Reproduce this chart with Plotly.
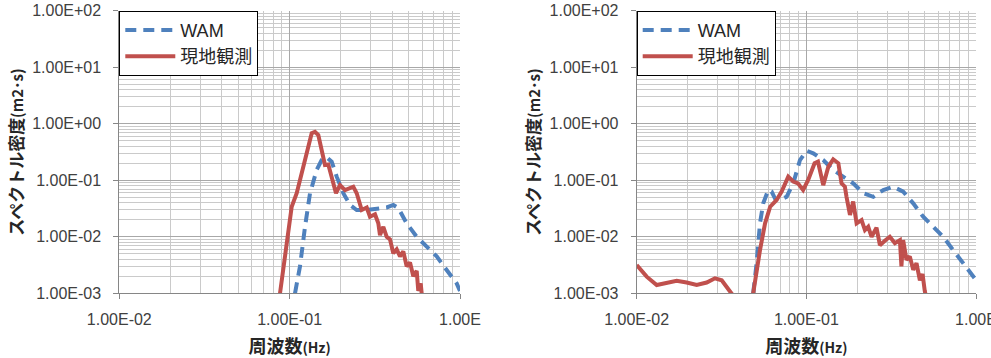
import plotly.graph_objects as go

# ---------------- data ----------------
# Left chart
wam1_f = [0.1075, 0.115, 0.1231, 0.1317, 0.1441, 0.1542, 0.1650, 0.1765, 0.1889, 0.2065,
          0.2261, 0.2475, 0.2834, 0.3243, 0.3713, 0.4059, 0.435, 0.4864, 0.557, 0.6377,
          0.730, 0.835, 0.956, 1.0]
wam1_s = [0.001, 0.003, 0.0151, 0.059, 0.152, 0.228, 0.255, 0.213, 0.116, 0.059,
          0.0365, 0.0298, 0.0298, 0.0318, 0.033, 0.0365, 0.032, 0.0173, 0.0100, 0.0067,
          0.0045, 0.00258, 0.0015, 0.0011]

obs1_f = [0.0878, 0.0961, 0.1028, 0.110, 0.1202, 0.1287, 0.1347, 0.1408, 0.1473, 0.1542,
          0.1612, 0.1686, 0.1765, 0.1871, 0.1975, 0.2113, 0.2364, 0.2475, 0.2649, 0.2834,
          0.2962, 0.3170, 0.3315, 0.3392, 0.3547, 0.3713, 0.3882, 0.4059, 0.425, 0.4444,
          0.4647, 0.4864, 0.5087, 0.532, 0.557, 0.569, 0.588, 0.60]
obs1_s = [0.001, 0.0077, 0.034, 0.059, 0.174, 0.343, 0.68, 0.72, 0.63, 0.34,
          0.186, 0.19, 0.116, 0.059, 0.082, 0.067, 0.077, 0.059, 0.0298, 0.033,
          0.0226, 0.025, 0.0173, 0.0107, 0.015, 0.0100, 0.009, 0.0051, 0.006, 0.0045,
          0.0055, 0.003, 0.0035, 0.002, 0.0025, 0.0011, 0.0015, 0.0008]

# Right chart
wam2_f = [0.0486, 0.0509, 0.0533, 0.0557, 0.0596, 0.0624, 0.0653, 0.0699, 0.0765, 0.0837,
          0.0917, 0.1004, 0.1098, 0.1258, 0.144, 0.165, 0.1889, 0.2164, 0.248, 0.284,
          0.3252, 0.3724, 0.4266, 0.4886, 0.5596, 0.6408, 0.734, 0.8408, 1.0]
wam2_s = [0.001, 0.0034, 0.0173, 0.039, 0.067, 0.063, 0.048, 0.0448, 0.051, 0.088,
          0.228, 0.333, 0.30, 0.228, 0.152, 0.116, 0.088, 0.059, 0.051, 0.067,
          0.0766, 0.063, 0.039, 0.0226, 0.0151, 0.0100, 0.0058, 0.0034, 0.00172]

obs2_f = [0.0100, 0.01145, 0.01312, 0.01503, 0.0172, 0.0197, 0.02257, 0.02585, 0.02893, 0.0317,
          0.0339, 0.0366, 0.042, 0.0486, 0.0533, 0.0571, 0.0612, 0.0668, 0.0715, 0.0782,
          0.0837, 0.0893, 0.0957, 0.1025, 0.1118, 0.1171, 0.1258, 0.1348, 0.144, 0.1544,
          0.1612, 0.1687, 0.1725, 0.1808, 0.1888, 0.1978, 0.2116, 0.2215, 0.2316, 0.2424,
          0.2591, 0.2714, 0.2903, 0.3106, 0.3325, 0.356, 0.3634, 0.372, 0.3893, 0.4072,
          0.4266, 0.446, 0.4668, 0.4841, 0.4989, 0.5112]
obs2_s = [0.00317, 0.00197, 0.0014, 0.0015, 0.00167, 0.00155, 0.0014, 0.00155, 0.00184, 0.0017,
          0.00128, 0.00095, 0.0003, 0.001, 0.0058, 0.0173, 0.034, 0.0448, 0.063, 0.116,
          0.095, 0.088, 0.067, 0.101, 0.20, 0.213, 0.082, 0.174, 0.235, 0.20,
          0.088, 0.077, 0.051, 0.0243, 0.042, 0.0173, 0.0197, 0.0131, 0.015, 0.0100,
          0.0145, 0.0071, 0.0085, 0.0100, 0.0077, 0.0087, 0.0030, 0.0087, 0.0039, 0.0045,
          0.0026, 0.0034, 0.0017, 0.0022, 0.0011, 0.0008]

x_tickvals = [0.01, 0.1, 1.0]
x_ticktext = ["1.00E-02", "1.00E-01", "1.00E"]
y_tickvals = [0.001, 0.01, 0.1, 1, 10, 100]
y_ticktext = ["1.00E-03", "1.00E-02", "1.00E-01", "1.00E+00", "1.00E+01", "1.00E+02"]

series_names = ["WAM", "現地観測"]

# ---------------- styling ----------------
BLUE = "#4F81BD"
RED = "#C0504D"
W, H = 991, 358
TICKFONT = dict(family="Liberation Sans, Arial", size=16, color="#404040")
CJK = "Noto Sans CJK JP"

fig = go.Figure()

def add_pair(wf, ws, of, os_, xa, ya, leg):
    fig.add_trace(go.Scatter(x=wf, y=ws, mode="lines", name=series_names[0],
                             line=dict(color=BLUE, width=4, dash="11px,7px"),
                             xaxis=xa, yaxis=ya, legend=leg))
    fig.add_trace(go.Scatter(x=of, y=os_, mode="lines", name=series_names[1],
                             line=dict(color=RED, width=4),
                             xaxis=xa, yaxis=ya, legend=leg))

add_pair(wam1_f, wam1_s, obs1_f, obs1_s, "x", "y", "legend")
add_pair(wam2_f, wam2_s, obs2_f, obs2_s, "x2", "y2", "legend2")

ytop = 1 - 10.7 / H
ybot = 1 - 293.3 / H
xdom1 = [119.3 / W, 460.0 / W]
xdom2 = [636.7 / W, 976.0 / W]

xtitle = "<b>周波数</b><b><span style='font-size:14px'>(Hz)</span></b>"
ytitle = "<b>スペクトル密度</b><b><span style='font-size:15px'>(m2･s)</span></b>"

GRID_MAJOR = "#A8A8A8"
GRID_MINOR = "#CACACA"

def xaxis(dom, anchor):
    return dict(type="log", domain=dom, anchor=anchor, range=[-2, 0], automargin=False,
                tickvals=x_tickvals, ticktext=x_ticktext, tickfont=TICKFONT,
                ticks="outside", ticklen=5, tickcolor="#868686", ticklabelstandoff=6,
                ticklabeloverflow="allow",
                showline=True, linecolor="#868686", linewidth=1,
                showgrid=True, gridcolor=GRID_MAJOR, gridwidth=1.4,
                minor=dict(tickvals=[k * 10 ** e for e in (-2, -1) for k in range(2, 10)],
                           showgrid=True, gridcolor=GRID_MINOR, gridwidth=1.2, ticks=""),
                title=dict(text=xtitle, font=dict(family=CJK, size=18, color="#262626"), standoff=14),
                zeroline=False, mirror=False)

def yaxis(dom, anchor):
    return dict(type="log", domain=dom, anchor=anchor, range=[-3, 2], automargin=False,
                tickvals=y_tickvals, ticktext=y_ticktext, tickfont=TICKFONT,
                ticks="outside", ticklen=5, tickcolor="#868686", ticklabelstandoff=9,
                showline=True, linecolor="#868686", linewidth=1,
                showgrid=True, gridcolor=GRID_MAJOR, gridwidth=1.4,
                minor=dict(tickvals=[k * 10 ** e for e in (-3, -2, -1, 0, 1) for k in range(2, 10)],
                           showgrid=True, gridcolor=GRID_MINOR, gridwidth=1.2, ticks=""),
                title=dict(text=ytitle, font=dict(family=CJK, size=17, color="#262626"), standoff=4),
                zeroline=False)

legend_common = dict(
    bgcolor="white", bordercolor="black", borderwidth=1,
    font=dict(family="Liberation Sans, " + CJK, size=18, color="#262626"),
    xanchor="left", yanchor="top", y=ytop, itemwidth=50,
)

fig.update_layout(
    width=W, height=H,
    margin=dict(l=0, r=0, t=0, b=0, autoexpand=False),
    paper_bgcolor="white", plot_bgcolor="white",
    showlegend=True,
    xaxis=xaxis(xdom1, "y"),
    yaxis=yaxis([ybot, ytop], "x"),
    xaxis2=xaxis(xdom2, "y2"),
    yaxis2=yaxis([ybot, ytop], "x2"),
    legend=dict(x=xdom1[0], **legend_common),
    legend2=dict(x=xdom2[0], **legend_common),
)

fig.write_html("out.html", config={"displayModeBar": False},
               post_script="document.body.style.margin='0';document.body.style.overflow='hidden';")
